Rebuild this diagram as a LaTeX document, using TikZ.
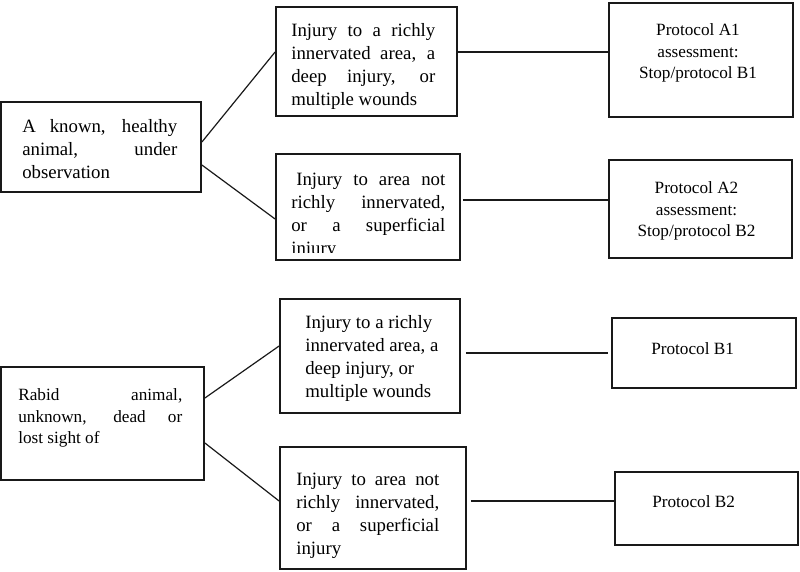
\documentclass[tikz,border=0pt]{standalone}
\usepackage{fontspec}
\setmainfont{Liberation Serif}
\usetikzlibrary{positioning}

\newcommand{\midfont}{\fontsize{18.8}{23}\selectfont}
\newcommand{\sidefont}{\fontsize{17.2}{21.8}\selectfont}

\begin{document}
\begin{tikzpicture}[x=1pt, y=-1pt,
    box/.style={draw=black!90, line width=1.8pt, inner sep=0pt},
    link/.style={draw=black!90, line width=1.2pt},
    txt/.style={inner sep=0pt, text=black, align=justify}]
  \useasboundingbox (0,0) rectangle (800,571);

  % Boxes, known animal
  \node[box, minimum width=200pt, minimum height=90pt] (known) at (101,147) {};
  \node[box, minimum width=181pt, minimum height=109pt] (richA) at (366.5,61.5) {};
  \node[box, minimum width=184pt, minimum height=106pt] (poorA) at (368,207) {};
  \node[box, minimum width=184pt, minimum height=114pt] (protA1) at (701,60) {};
  \node[box, minimum width=183pt, minimum height=98pt] (protA2) at (700.5,209) {};

  % Boxes, rabid animal
  \node[box, minimum width=203pt, minimum height=113pt] (rabid) at (102.5,423.5) {};
  \node[box, minimum width=180pt, minimum height=114pt] (richB) at (370,356) {};
  \node[box, minimum width=186pt, minimum height=122pt] (poorB) at (373,508) {};
  \node[box, minimum width=184pt, minimum height=70pt] (protB1) at (704,353) {};
  \node[box, minimum width=183pt, minimum height=73pt] (protB2) at (706.5,508.5) {};

  % Texts
  \node[txt, font=\midfont, text width=155pt, below right=18pt and 22pt of known.north west] (knownTxt)
    {A known, healthy\linebreak animal, under\linebreak observation};
  \node[txt, font=\midfont, text width=144pt, below right=17pt and 16pt of richA.north west] (richATxt)
    {Injury to a richly\linebreak innervated area, a\linebreak deep injury, or\linebreak multiple wounds};
  % last line runs into the frame
  \begin{scope}
    \clip (poorA.north west) rectangle ([yshift=8pt]poorA.south east);
    \node[txt, font=\midfont, text width=154pt, below right=20pt and 16pt of poorA.north west] (poorATxt)
      {\hspace*{5pt}Injury to area not\linebreak richly innervated,\linebreak or a superficial\linebreak injury};
  \end{scope}
  \node[txt, font=\sidefont, align=center, below=21pt of protA1.north, xshift=-3pt] (protA1Txt)
    {Protocol A1\\assessment:\\Stop/protocol B1};
  \node[txt, font=\sidefont, align=center, below=22pt of protA2.north, xshift=-4pt] (protA2Txt)
    {Protocol A2\\assessment:\\Stop/protocol B2};

  \node[txt, font=\sidefont, text width=164pt, below right=22pt and 18pt of rabid.north west] (rabidTxt)
    {Rabid animal,\linebreak unknown, dead or\linebreak lost sight of};
  \node[txt, font=\midfont, align=left, below right=17pt and 26pt of richB.north west] (richBTxt)
    {Injury to a richly\\innervated area, a\\deep injury, or\\multiple wounds};
  \node[txt, font=\midfont, text width=143pt, below right=27pt and 17pt of poorB.north west] (poorBTxt)
    {Injury to area not\linebreak richly innervated,\linebreak or a superficial\linebreak injury};
  \node[txt, font=\sidefont, below right=25pt and 40pt of protB1.north west] (protB1Txt) {Protocol B1};
  \node[txt, font=\sidefont, below right=24pt and 38pt of protB2.north west] (protB2Txt) {Protocol B2};

  % Links to the injuries
  \foreach \a/\ya/\b/\yb in {known/5pt/richA/9.5pt, known/-18pt/poorA/-12pt,
                             rabid/25.5pt/richB/10pt, rabid/-19.5pt/poorB/7pt}
    \draw[link] ([yshift=\ya]\a.east) -- ([yshift=\yb]\b.west);

  % Links to the protocols
  \foreach \a/\xa/\ya/\b/\xb/\yb in {richA/0pt/9.5pt/protA1/0pt/8pt, poorA/2pt/7pt/protA2/2pt/9pt,
                                     richB/5pt/3pt/protB1/-3pt/0pt, poorB/4pt/7pt/protB2/0pt/7.5pt}
    \draw[link] ([xshift=\xa,yshift=\ya]\a.east) -- ([xshift=\xb,yshift=\yb]\b.west);
\end{tikzpicture}
\end{document}
